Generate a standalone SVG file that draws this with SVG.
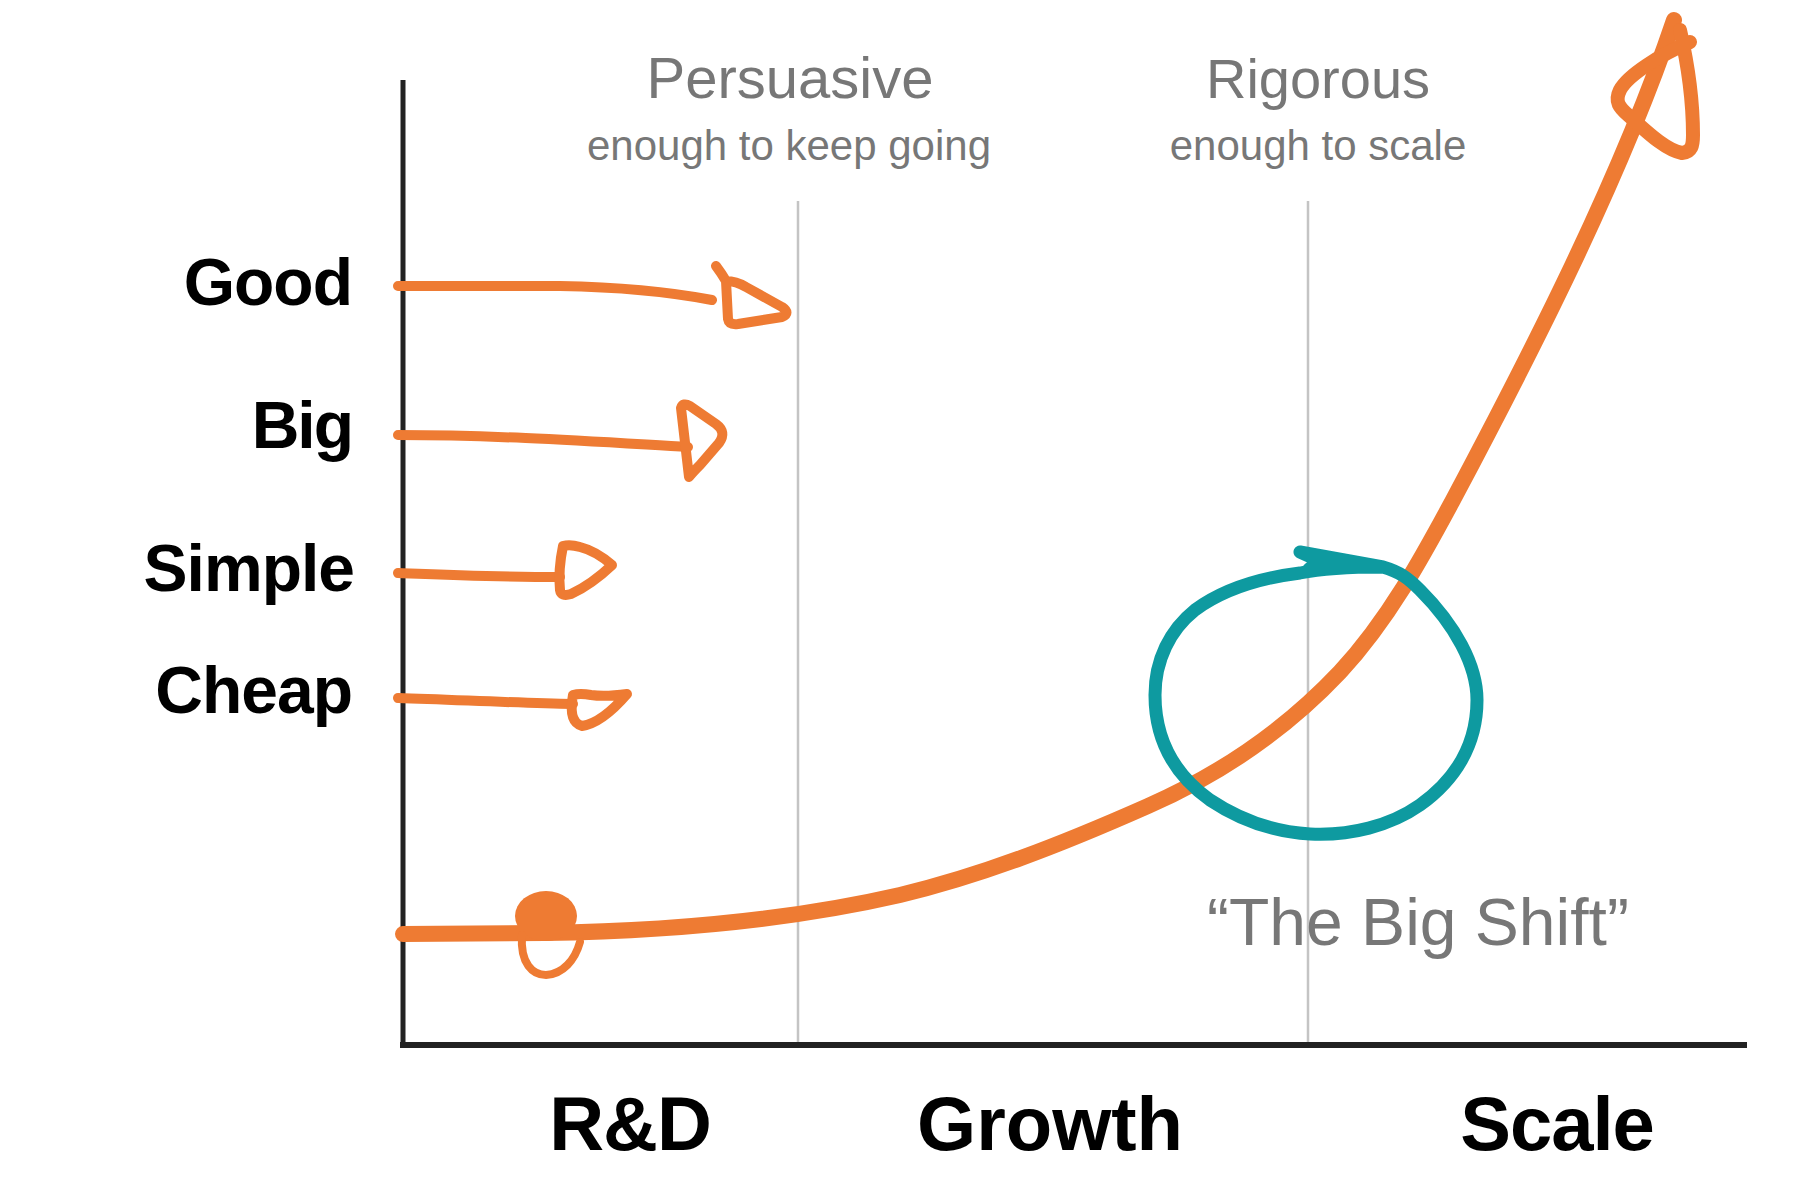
<svg xmlns="http://www.w3.org/2000/svg" width="1800" height="1200" viewBox="0 0 1800 1200">
<style>
.lbl{font-family:"Liberation Sans",Arial,sans-serif;font-weight:700;fill:#000;}
.hand{font-family:"Liberation Sans",Arial,sans-serif;fill:#777;}
.or{fill:none;stroke:#EE7B33;stroke-linecap:round;stroke-linejoin:round;}
.tl{fill:none;stroke:#0E9AA0;stroke-width:13;stroke-linecap:round;stroke-linejoin:round;}
.guide{stroke:#C4C4C4;stroke-width:2.5;}
</style>
<rect width="1800" height="1200" fill="#fff"/>
<g id="guides">
<line class="guide" x1="798" y1="201" x2="798" y2="1045"/>
<line class="guide" x1="1308" y1="201" x2="1308" y2="1045"/>
</g>
<g id="axes">
<line x1="403" y1="80" x2="403" y2="1048" stroke="#222" stroke-width="5"/>
<line x1="400" y1="1045" x2="1747" y2="1045" stroke="#222" stroke-width="6"/>
</g>
<g id="header-persuasive">
<text class="hand" x="790" y="98" font-size="58" text-anchor="middle">Persuasive</text>
<text class="hand" x="789" y="160" font-size="42" text-anchor="middle">enough to keep going</text>
</g>
<g id="header-rigorous">
<text class="hand" x="1318" y="98" font-size="56" text-anchor="middle">Rigorous</text>
<text class="hand" x="1318" y="160" font-size="42" text-anchor="middle">enough to scale</text>
</g>
<g id="row-labels">
<text class="lbl" x="352" y="305" font-size="66" text-anchor="end" letter-spacing="-1">Good</text>
<text class="lbl" x="352" y="448" font-size="66" text-anchor="end" letter-spacing="-2">Big</text>
<text class="lbl" x="354" y="591" font-size="66" text-anchor="end" letter-spacing="-1">Simple</text>
<text class="lbl" x="352" y="713" font-size="66" text-anchor="end" letter-spacing="-1">Cheap</text>
</g>
<g id="stage-labels">
<text class="lbl" x="630" y="1150" font-size="76" text-anchor="middle" letter-spacing="-1">R&amp;D</text>
<text class="lbl" x="1050" y="1150" font-size="76" text-anchor="middle">Growth</text>
<text class="lbl" x="1557" y="1150" font-size="76" text-anchor="middle" letter-spacing="-1">Scale</text>
</g>
<g id="connectors">
<g id="arrow-good" class="or" stroke-width="10">
<path d="M398,286 L560,286 C620,287 670,292 712,300"/>
<path d="M716,266 Q722,274 726,281 L728,319 Q729,325 738,324 L782,317 Q791,313 782,307 L746,287 Q736,281 726,281"/>
</g>
<g id="arrow-big" class="or" stroke-width="10">
<path d="M398,435 C500,435 600,442 688,447"/>
<path d="M689,477 L681,408 Q683,402 690,406 L716,424 Q727,432 719,443 L700,465 Q693,472 689,477"/>
</g>
<g id="arrow-simple" class="or" stroke-width="10">
<path d="M398,573 C450,575 500,577 560,577"/>
<path d="M563,546 Q558,570 560,590 Q561,597 571,594 Q592,584 612,565 Q596,551 580,547 Q570,544 563,546"/>
</g>
<g id="arrow-cheap" class="or" stroke-width="10">
<path d="M398,698 C460,700 520,703 573,704"/>
<path d="M573,695 Q568,722 582,726 Q602,723 627,694 Q605,697 591,695 Q580,693 573,695"/>
</g>
<g id="growth-curve" class="or" stroke-width="16">
<path d="M403,934 L545,933 C680,931 800,918 900,895 C980,876 1060,845 1148,806 C1230,770 1290,725 1340,672 C1390,618 1425,552 1453,500 C1530,355 1620,180 1674,20"/>
<path d="M1690,42 C1660,55 1628,75 1620,90 C1614,102 1620,108 1628,115 C1645,130 1665,150 1682,153 C1692,152 1693,145 1693,135 C1693,100 1688,65 1680,30" stroke-width="14"/>
</g>
<g id="start-dot">
<ellipse cx="546" cy="916" rx="31" ry="25" fill="#EE7B33"/>
<path class="or" stroke-width="8" d="M522,935 C520,964 533,975 546,975 C563,974 575,960 580,942"/>
</g>
</g>
<g id="big-shift">
<path class="tl" d="M1300,552 L1320,561 L1309,569 M1300,552 L1383,567 C1400,572 1408,578 1420,590 C1455,625 1477,665 1477,700 C1477,745 1455,780 1420,805 C1390,826 1350,836 1310,834 C1275,832 1240,820 1210,800 C1175,775 1155,740 1155,695 C1155,660 1170,630 1195,610 C1225,588 1260,578 1300,573 C1320,569 1345,567 1383,567"/>
<text class="hand" x="1418" y="945" font-size="66" text-anchor="middle">“The Big Shift”</text>
</g>
</svg>
